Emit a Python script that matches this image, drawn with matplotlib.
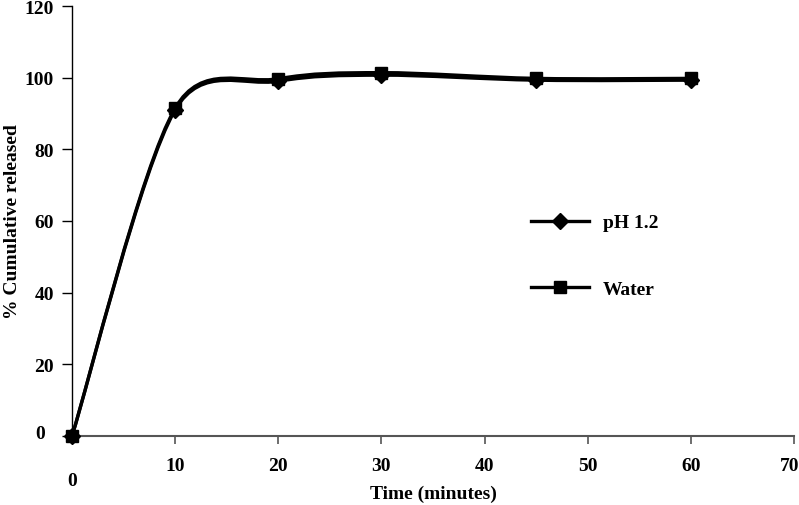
import matplotlib
matplotlib.use("Agg")
import math
import matplotlib.pyplot as plt
from matplotlib.path import Path
from matplotlib.patches import PathPatch
from matplotlib.lines import Line2D
import matplotlib.transforms as mtransforms

plt.rcParams['font.family'] = ['Liberation Serif', 'DejaVu Serif']
plt.rcParams['font.weight'] = 'bold'

time_min = [0, 10, 20, 30, 45, 60]
ph12 = [0, 91.0, 99.0, 100.7, 99.3, 99.3]
water = [0, 91.5, 99.7, 101.4, 99.8, 99.8]
series_labels = ["pH 1.2", "Water"]
x_ticks = [0, 10, 20, 30, 40, 50, 60, 70]
y_ticks = [0, 20, 40, 60, 80, 100, 120]
FS = 14

fig = plt.figure(figsize=(7.99, 5.06), dpi=100)
ax = fig.add_axes([72 / 799, 69 / 506, (794 - 72) / 799, (437 - 7) / 506])
ax.set_xlim(0, 70)
ax.set_ylim(0, 120)


def smooth_path(xs, ys):
    """Excel-like smoothed curve: cubic Bezier segments with control points
    computed in display space (tension 1/6, capped at half the segment)."""
    disp = [tuple(ax.transData.transform((x, y))) for x, y in zip(xs, ys)]
    n = len(disp)

    def dist(a, b):
        return math.hypot(a[0] - b[0], a[1] - b[1])

    verts = [disp[0]]
    codes = [Path.MOVETO]
    for i in range(n - 1):
        p0 = disp[i - 1] if i > 0 else disp[i]
        p1 = disp[i]
        p2 = disp[i + 1]
        p3 = disp[i + 2] if i + 2 < n else disp[i + 1]
        d12 = dist(p1, p2)
        d02 = dist(p0, p2)
        d13 = dist(p1, p3)
        f0 = 1 / 6.0
        f1 = 1 / 6.0
        if d02 > 0 and d02 * f0 > d12 / 2:
            f0 = d12 / 2 / d02
        if d13 > 0 and d13 * f1 > d12 / 2:
            f1 = d12 / 2 / d13
        c1 = (p1[0] + f0 * (p2[0] - p0[0]), p1[1] + f0 * (p2[1] - p0[1]))
        c2 = (p2[0] - f1 * (p3[0] - p1[0]), p2[1] - f1 * (p3[1] - p1[1]))
        verts += [c1, c2, p2]
        codes += [Path.CURVE4] * 3
    inv = ax.transData.inverted()
    data_verts = [tuple(inv.transform(v)) for v in verts]
    return Path(data_verts, codes)


for ys in (ph12, water):
    ax.add_patch(PathPatch(smooth_path(time_min, ys), facecolor='none',
                           edgecolor='black', lw=2.4, zorder=2,
                           joinstyle='round', capstyle='round', clip_on=False))

ax.plot(time_min, ph12, linestyle='none', marker='D', ms=8.5, color='black',
        zorder=3, clip_on=False)
ax.plot(time_min, water, linestyle='none', marker='s', ms=9, color='black',
        zorder=4, clip_on=False)

ax.set_xticks(x_ticks)
ax.set_yticks(y_ticks)
ax.spines['top'].set_visible(False)
ax.spines['right'].set_visible(False)
ax.spines['left'].set_linewidth(1.0)
ax.spines['bottom'].set_linewidth(1.5)
ax.spines['bottom'].set_color('#555555')
ax.tick_params(axis='x', direction='out', length=6, width=1.2, color='#555555',
               labelsize=FS, pad=9)
ax.tick_params(axis='y', direction='out', length=7, width=1.0, color='black',
               labelsize=FS, pad=6)
for lab in ax.get_xticklabels() + ax.get_yticklabels():
    lab.set_fontweight('bold')

# Excel-style offsets for the zero labels and the last x label
xl0 = ax.get_xticklabels()[0]
xl0.set_transform(xl0.get_transform() + mtransforms.ScaledTranslation(0, -15 / 100, fig.dpi_scale_trans))
xlN = ax.get_xticklabels()[-1]
xlN.set_transform(xlN.get_transform() + mtransforms.ScaledTranslation(-4 / 100, 0, fig.dpi_scale_trans))
yl0 = ax.get_yticklabels()[0]
yl0.set_transform(yl0.get_transform() + mtransforms.ScaledTranslation(-9 / 100, 4 / 100, fig.dpi_scale_trans))

ax.set_xlabel("Time (minutes)", fontsize=FS, fontweight='bold')
ax.xaxis.set_label_coords(0.5, -(486 - 437) / 430)
ax.set_ylabel("% Cumulative released", fontsize=FS, fontweight='bold')
ax.yaxis.set_label_coords((4 - 72) / 722, 0.5)
ax.yaxis.label.set_va('top')

handles = [Line2D([], [], color='black', lw=2.4, marker='D', ms=8.5),
           Line2D([], [], color='black', lw=2.4, marker='s', ms=9)]
leg = ax.legend(handles, series_labels, loc='upper left',
                bbox_to_anchor=(521 / 799, (506 - 205) / 506), bbox_transform=fig.transFigure,
                frameon=False, fontsize=FS, handlelength=3.0, handletextpad=0.7,
                labelspacing=2.5, borderpad=0)
for t in leg.get_texts():
    t.set_fontweight('bold')

fig.savefig("out.png", dpi=100)
